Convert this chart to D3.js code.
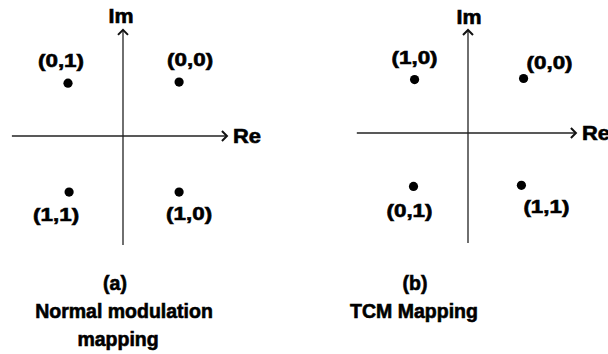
<!DOCTYPE html>
<html>
<head>
<meta charset="utf-8">
<script src="https://cdn.jsdelivr.net/npm/d3@7"></script>
<style>
  html, body { margin: 0; padding: 0; background: #fff; }
  svg { display: block; }
  text { font-family: "Liberation Sans", Arial, sans-serif; font-weight: bold; fill: #000;
         stroke: #000; stroke-width: 0.6; }
</style>
</head>
<body>
<svg id="chart" width="608" height="354"></svg>
<script>
// QPSK constellation symbols: in-phase / quadrature amplitudes and bit labels
const normalBits = ["(0,1)", "(0,0)", "(1,1)", "(1,0)"];
const normalI = [-1.0, 1.02, -0.98, 1.02];
const normalQ = [0.96, 0.98, -1.02, -1.02];

const tcmBits = ["(1,0)", "(0,0)", "(0,1)", "(1,1)"];
const tcmI = [-0.98, 1.02, -1.0, 0.98];
const tcmQ = [0.98, 1.0, -0.98, -0.96];

const captionsA = ["(a)", "Normal modulation", "mapping"];
const captionsB = ["(b)", "TCM Mapping"];

const axisLabels = { re: "Re", im: "Im" };

const svg = d3.select("#chart");

function drawPanel(cfg) {
  const x = d3.scaleLinear().domain([-1, 1]).range([cfg.cx - cfg.u, cfg.cx + cfg.u]);
  const y = d3.scaleLinear().domain([-1, 1]).range([cfg.cy + cfg.u, cfg.cy - cfg.u]);
  const g = svg.append("g");

  // axes
  const xa0 = x(cfg.reMin), xa1 = x(cfg.reMax);
  const ya0 = y(cfg.imMin), ya1 = y(cfg.imMax);
  g.append("line").attr("x1", xa0).attr("x2", xa1).attr("y1", y(0)).attr("y2", y(0))
    .attr("stroke", "#222").attr("stroke-width", 1.3);
  g.append("line").attr("x1", x(0)).attr("x2", x(0)).attr("y1", ya0).attr("y2", ya1)
    .attr("stroke", "#222").attr("stroke-width", 1.3);

  // arrow heads (open chevrons)
  g.append("path")
    .attr("d", `M${xa1 - 5},${y(0) - 5} L${xa1},${y(0)} L${xa1 - 5},${y(0) + 5}`)
    .attr("fill", "none").attr("stroke", "#111").attr("stroke-width", 2);
  g.append("path")
    .attr("d", `M${x(0) - 5},${ya1 + 5} L${x(0)},${ya1} L${x(0) + 5},${ya1 + 5}`)
    .attr("fill", "none").attr("stroke", "#111").attr("stroke-width", 2);

  g.append("text").attr("x", xa1 + 6).attr("y", y(0) + 7)
    .attr("font-size", 19.5).attr("textLength", 28).attr("lengthAdjust", "spacingAndGlyphs")
    .text(axisLabels.re);
  g.append("text").attr("x", x(0) + cfg.imDx).attr("y", cfg.imY).attr("text-anchor", "middle")
    .attr("font-size", 19.5).attr("textLength", 25).attr("lengthAdjust", "spacingAndGlyphs")
    .text(axisLabels.im);

  // symbols
  const pts = cfg.bits.map((b, i) => ({ b, i: cfg.I[i], q: cfg.Q[i], off: cfg.labelOff[i] }));
  g.selectAll("circle.sym").data(pts).join("circle")
    .attr("class", "sym")
    .attr("cx", d => x(d.i)).attr("cy", d => y(d.q)).attr("r", 4.6)
    .attr("fill", "#000");

  g.selectAll("text.lbl").data(pts).join("text")
    .attr("class", "lbl")
    .attr("x", d => x(d.i) + d.off[0]).attr("y", d => y(d.q) + d.off[1])
    .attr("text-anchor", "middle")
    .attr("font-size", 18)
    .attr("textLength", 46).attr("lengthAdjust", "spacingAndGlyphs")
    .text(d => d.b);

  // captions
  g.selectAll("text.cap").data(cfg.captions).join("text")
    .attr("class", "cap")
    .attr("x", (d, i) => cfg.capX[i]).attr("y", (d, i) => cfg.capY[i])
    .attr("text-anchor", "middle")
    .attr("font-size", 19.5)
    .text(d => d);
}

drawPanel({
  cx: 123, cy: 136, u: 55,
  reMin: -2.02, reMax: 1.89, imMin: -1.98, imMax: 1.93,
  imDx: -2, imY: 23,
  bits: normalBits, I: normalI, Q: normalQ,
  labelOff: [[-7, -16], [11, -16], [-13, 29], [10, 28]],
  captions: captionsA, capX: [115, 124, 118], capY: [290, 318, 346]
});

drawPanel({
  cx: 468, cy: 133, u: 54.5,
  reMin: -2.04, reMax: 1.98, imMin: -2.02, imMax: 1.89,
  imDx: 1, imY: 24,
  bits: tcmBits, I: tcmI, Q: tcmQ,
  labelOff: [[0, -16], [26, -10], [-4, 31], [25, 28]],
  captions: captionsB, capX: [415, 414], capY: [290, 318]
});
</script>
</body>
</html>
